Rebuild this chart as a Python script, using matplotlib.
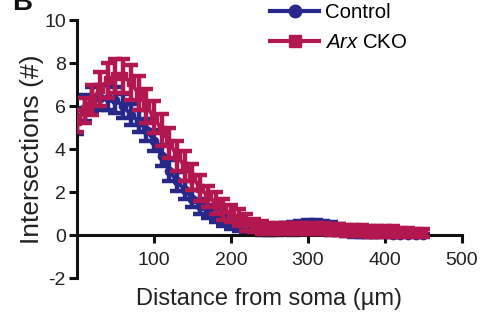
import matplotlib
matplotlib.use("Agg")
import matplotlib.pyplot as plt
from matplotlib.lines import Line2D

plt.rcParams['font.family'] = ['Liberation Sans', 'DejaVu Sans']
plt.rcParams['mathtext.fontset'] = 'custom'
plt.rcParams['mathtext.it'] = 'Liberation Sans:italic'
plt.rcParams['mathtext.rm'] = 'Liberation Sans'
plt.rcParams['axes.unicode_minus'] = False

distance = list(range(0, 460, 10))
control_mean = [5.3, 5.9, 6.3, 6.4, 6.4, 6.3, 6.0, 5.6, 5.3, 4.9,
                4.4, 3.7, 3.0, 2.5, 2.1, 1.7, 1.35, 1.1, 0.9, 0.7,
                0.55, 0.45, 0.35, 0.28, 0.22, 0.2, 0.25, 0.3, 0.32, 0.36,
                0.4, 0.4, 0.36, 0.3, 0.25, 0.15, 0.1, 0.05, 0.05, 0.05,
                0.05, 0.02, 0.02, 0.0, 0.0, 0.0]
control_sem = [0.6, 0.6, 0.6, 0.6, 0.6, 0.6, 0.55, 0.5, 0.5, 0.5,
               0.5, 0.5, 0.5, 0.45, 0.4, 0.4, 0.35, 0.3, 0.3, 0.3,
               0.25, 0.25, 0.2, 0.2, 0.2, 0.2, 0.25, 0.25, 0.3, 0.3,
               0.3, 0.3, 0.3, 0.3, 0.25, 0.2, 0.2, 0.15, 0.15, 0.15,
               0.1, 0.1, 0.05, 0.05, 0.05, 0.05]
cko_mean = [5.3, 5.8, 6.3, 6.8, 7.2, 7.4, 7.4, 7.1, 6.6, 6.0,
            5.5, 4.9, 4.3, 3.7, 3.2, 2.7, 2.2, 1.8, 1.5, 1.2,
            1.0, 0.8, 0.6, 0.45, 0.35, 0.3, 0.3, 0.3, 0.3, 0.3,
            0.3, 0.3, 0.3, 0.25, 0.25, 0.2, 0.2, 0.2, 0.18, 0.15,
            0.15, 0.15, 0.12, 0.12, 0.1, 0.1]
cko_sem = [0.5, 0.6, 0.7, 0.8, 0.8, 0.8, 0.8, 0.8, 0.8, 0.8,
           0.75, 0.75, 0.7, 0.7, 0.7, 0.6, 0.6, 0.5, 0.5, 0.5,
           0.4, 0.4, 0.4, 0.3, 0.3, 0.25, 0.25, 0.25, 0.25, 0.25,
           0.25, 0.25, 0.25, 0.25, 0.25, 0.25, 0.25, 0.25, 0.25, 0.25,
           0.25, 0.25, 0.2, 0.2, 0.2, 0.2]

x_ticks = [100, 200, 300, 400, 500]
y_ticks = [-2, 0, 2, 4, 6, 8, 10]

blue = '#27288a'
red = '#b3174f'
text_color = '#222222'

fig = plt.figure(figsize=(4.93, 3.2), dpi=100)
ax = fig.add_axes([0.156, 0.131, 0.781, 0.806])

ax.errorbar(distance, control_mean, yerr=control_sem, color=blue, marker='o',
            markersize=6, lw=2.8, elinewidth=3.2, capsize=5, capthick=3.2, zorder=2)
ax.errorbar(distance, cko_mean, yerr=cko_sem, color=red, marker='s',
            markersize=6, lw=2.8, elinewidth=3.2, capsize=5, capthick=3.2, zorder=3)

ax.set_xlim(0, 500)
ax.set_ylim(-2, 10)
ax.set_xticks(x_ticks)
ax.set_yticks(y_ticks)
ax.spines['top'].set_visible(False)
ax.spines['right'].set_visible(False)
ax.spines['bottom'].set_position(('data', 0))
for s in ('left', 'bottom'):
    ax.spines[s].set_linewidth(2.2)
    ax.spines[s].set_color('#111111')
ax.tick_params(width=2.2, length=6, labelsize=14, colors='#111111', labelcolor=text_color)
ax.tick_params(axis='x', pad=6)
ax.tick_params(axis='y', pad=2)

ax.set_xlabel('Distance from soma (µm)', fontsize=17, color=text_color, labelpad=14)
ax.set_ylabel('Intersections (#)', fontsize=19, color=text_color, labelpad=0)

handles = [Line2D([0], [0], color=blue, marker='o', lw=3, markersize=9),
           Line2D([0], [0], color=red, marker='s', lw=3, markersize=9)]
ax.legend(handles, ['Control', r'$\it{Arx}$ CKO'], loc='upper left',
          bbox_to_anchor=(270 / 493, 1.0 - 3 / 320), bbox_transform=fig.transFigure,
          frameon=False, fontsize=14.7, handlelength=2.4, handletextpad=0.3,
          labelspacing=0.55, borderaxespad=0.0, borderpad=0.0)

fig.text(12 / 493, 1.0 - 10 / 320, 'B', fontsize=20, fontweight='bold',
         va='baseline', ha='left', color='#111111')

fig.savefig('out.png', dpi=100)
